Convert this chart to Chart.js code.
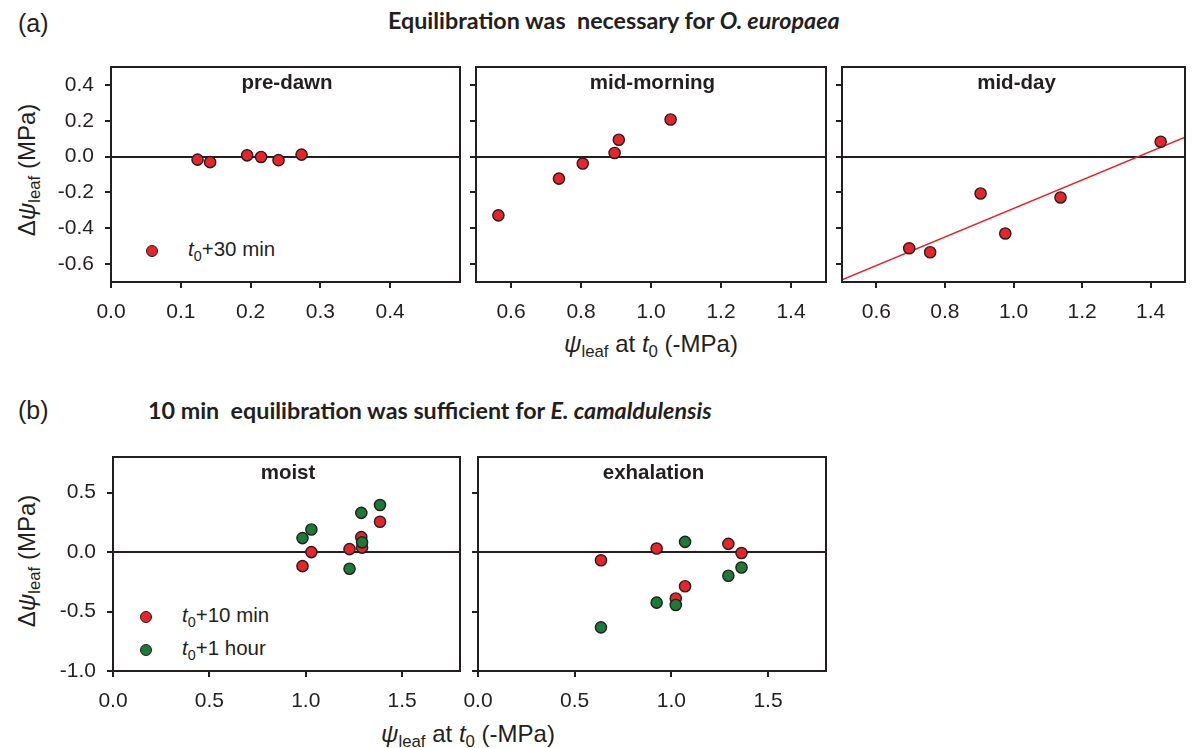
<!DOCTYPE html>
<html><head><meta charset="utf-8">
<script src="https://cdn.jsdelivr.net/npm/chart.js@4.4.1/dist/chart.umd.min.js"></script>
<style>
html,body{margin:0;padding:0;background:#fff;width:1192px;height:748px;overflow:hidden;}
body{position:relative;font-family:"Liberation Sans",Arial,sans-serif;color:#231f20}
.abs{position:absolute;white-space:nowrap}
.panel{position:absolute}
.title{font-family:Lato,"Open Sans",sans-serif;font-weight:bold;font-size:23.3px;line-height:26px}
.ptitle{position:absolute;font-weight:bold;font-size:20.5px;line-height:24px;text-align:center}
.ax{font-size:24px;line-height:28px}
.lab{font-size:25px;line-height:28px}
.leg{font-size:20.5px;line-height:24px}
sub{font-size:0.7em;vertical-align:-0.32em;line-height:0}
.dot{position:absolute;width:12px;height:12px;box-sizing:border-box;border-radius:50%;border:1.5px solid #231f20}
.rot{transform:translate(-50%,-50%) rotate(-90deg)}
</style></head>
<body>
<div class="abs lab" style="left:18px;top:9px">(a)</div>
<div class="abs title" style="left:388px;top:7px">Equilibration was&nbsp; necessary for <i>O. europaea</i></div>
<div class="abs lab" style="left:18px;top:396px">(b)</div>
<div class="abs title" style="left:148px;top:397px">10 min&nbsp; equilibration was sufficient for <i>E. camaldulensis</i></div>

<div class="abs ax rot" style="left:27px;top:170px">Δ<i>ψ</i><sub>leaf</sub> (MPa)</div>
<div class="abs ax rot" style="left:27px;top:561px">Δ<i>ψ</i><sub>leaf</sub> (MPa)</div>
<div class="abs ax" style="left:564px;top:330px"><i>ψ</i><sub>leaf</sub> at <i>t</i><sub>0</sub> (-MPa)</div>
<div class="abs ax" style="left:381px;top:720px"><i>ψ</i><sub>leaf</sub> at <i>t</i><sub>0</sub> (-MPa)</div>

<div id="legends"></div>

<script>
// ---------- data ----------
const RED = '#e8232a';
const GREEN = '#1a7a36';

const yTicksA = [-0.6, -0.4, -0.2, 0, 0.2, 0.4];
const yTicksB = [-1.0, -0.5, 0, 0.5];
const xTicksPreDawn = [0, 0.1, 0.2, 0.3, 0.4];
const xTicksMid = [0.6, 0.8, 1.0, 1.2, 1.4];
const xTicksB = [0, 0.5, 1.0, 1.5];

const preDawnX = [0.124, 0.142, 0.195, 0.215, 0.240, 0.273];
const preDawnY = [-0.017, -0.031, 0.007, -0.002, -0.020, 0.011];

const midMorningX = [0.564, 0.737, 0.805, 0.896, 0.908, 1.056];
const midMorningY = [-0.328, -0.123, -0.039, 0.020, 0.094, 0.207];

const midDayX = [0.696, 0.757, 0.904, 0.976, 1.137, 1.429];
const midDayY = [-0.512, -0.534, -0.206, -0.429, -0.228, 0.083];
const midDayFitX = [0.5, 1.5];
const midDayFitY = [-0.688, 0.108];

const moistX = [0.983, 1.029, 1.227, 1.288, 1.292, 1.385];
const moist10minY = [-0.118, 0.000, 0.025, 0.126, 0.038, 0.255];
const moist1hourY = [0.118, 0.190, -0.140, 0.330, 0.082, 0.396];

const exhalationX = [0.636, 0.924, 1.023, 1.071, 1.295, 1.363];
const exhalation10minY = [-0.069, 0.030, -0.390, -0.287, 0.069, -0.008];
const exhalation1hourY = [-0.633, -0.425, -0.445, 0.086, -0.199, -0.130];

const pts = (xs, ys) => xs.map((x, i) => ({x: x, y: ys[i]}));

// ---------- helpers ----------
const INK = '#231f20';
function dots(xs, ys, color, order) {
  return {data: pts(xs, ys), backgroundColor: color, borderColor: INK, borderWidth: 1.4,
          pointRadius: 5.6, pointHoverRadius: 5.6, order: order};
}
function fitLine(xs, ys) {
  return {data: pts(xs, ys), showLine: true, borderColor: RED, borderWidth: 1.5,
          pointRadius: 0, order: 5, fill: false};
}

const boxPlugin = {
  id: 'box',
  afterDraw(chart) {
    const a = chart.chartArea, c = chart.ctx;
    c.save(); c.strokeStyle = INK; c.lineWidth = 2;
    c.strokeRect(a.left, a.top, a.right - a.left, a.bottom - a.top);
    c.restore();
  }
};

const panels = [
  {title: 'pre-dawn', box: [111, 64, 463, 282], yW: 71, labels: true,
   x: [0, 0.5, xTicksPreDawn], y: [-0.7, 0.5, yTicksA],
   ds: [dots(preDawnX, preDawnY, RED, 1)]},
  {title: 'mid-morning', box: [476, 64, 829, 282], yW: 30, labels: false,
   x: [0.5, 1.5, xTicksMid], y: [-0.7, 0.5, yTicksA],
   ds: [dots(midMorningX, midMorningY, RED, 1)]},
  {title: 'mid-day', box: [842, 64, 1191, 282], yW: 30, labels: false, padR: 1,
   x: [0.5, 1.5, xTicksMid], y: [-0.7, 0.5, yTicksA],
   ds: [fitLine(midDayFitX, midDayFitY), dots(midDayX, midDayY, RED, 1)]},
  {title: 'moist', box: [113, 454, 463, 671], yW: 73, labels: true,
   x: [0, 1.8, xTicksB], y: [-1.0, 0.8, yTicksB],
   ds: [dots(moistX, moist10minY, RED, 1), dots(moistX, moist1hourY, GREEN, 0)]},
  {title: 'exhalation', box: [478, 454, 829, 671], yW: 30, labels: false,
   x: [0, 1.8, xTicksB], y: [-1.0, 0.8, yTicksB],
   ds: [dots(exhalationX, exhalation10minY, RED, 1), dots(exhalationX, exhalation1hourY, GREEN, 0)]}
];

const PADT = 4, XH = 46;
const tickFont = {family: '"Liberation Sans", Arial, sans-serif', size: 21};

panels.forEach((p, i) => {
  const [l, t, r, b] = p.box;
  const padR = p.padR !== undefined ? p.padR : 4;
  const div = document.createElement('div');
  div.className = 'panel';
  div.style.left = (l - p.yW) + 'px';
  div.style.top = (t - PADT) + 'px';
  div.style.width = (p.yW + (r - l) + padR) + 'px';
  div.style.height = (PADT + (b - t) + XH) + 'px';
  const cv = document.createElement('canvas');
  div.appendChild(cv);
  document.body.appendChild(div);

  const tt = document.createElement('div');
  tt.className = 'ptitle';
  tt.style.left = l + 'px'; tt.style.width = (r - l) + 'px';
  tt.style.top = (t + 6) + 'px';
  tt.textContent = p.title;
  document.body.appendChild(tt);

  new Chart(cv, {
    type: 'scatter',
    data: {datasets: p.ds},
    plugins: [boxPlugin],
    options: {
      responsive: true, maintainAspectRatio: false, animation: false,
      layout: {padding: {top: PADT, right: padR, left: 0, bottom: 0}},
      plugins: {legend: {display: false}, tooltip: {enabled: false}},
      events: [],
      scales: {
        x: {
          type: 'linear', min: p.x[0], max: p.x[1],
          afterBuildTicks: s => { s.ticks = p.x[2].map(v => ({value: v})); },
          afterFit: s => { s.height = XH; s.paddingLeft = 0; s.paddingRight = 0; },
          ticks: {font: tickFont, color: INK, padding: 12, maxRotation: 0, autoSkip: false,
                  callback: v => v.toFixed(1)},
          grid: {drawOnChartArea: false, drawTicks: true, tickLength: 6, tickColor: INK, lineWidth: 2, color: INK},
          border: {display: false}
        },
        y: {
          type: 'linear', min: p.y[0], max: p.y[1],
          afterBuildTicks: s => { s.ticks = p.y[2].map(v => ({value: v})); },
          afterFit: s => { s.width = p.yW; s.paddingTop = 0; s.paddingBottom = 0; },
          ticks: {display: p.labels, font: tickFont, color: INK, padding: 11, autoSkip: false,
                  callback: v => v.toFixed(1)},
          grid: {drawOnChartArea: true, drawTicks: true, tickLength: 6, tickColor: INK, lineWidth: 2,
                 color: ctx => (ctx.tick && ctx.tick.value === 0) ? INK : 'rgba(0,0,0,0)'},
          border: {display: false}
        }
      }
    }
  });
});

// ---------- legends ----------
const legendItems = [
  {cx: 151.7, cy: 250.5, tx: 188, color: RED, html: '<i>t</i><sub>0</sub>+30 min'},
  {cx: 145.7, cy: 617, tx: 182, color: RED, html: '<i>t</i><sub>0</sub>+10 min'},
  {cx: 145.7, cy: 649.5, tx: 182, color: GREEN, html: '<i>t</i><sub>0</sub>+1 hour'}
];
const lg = document.getElementById('legends');
legendItems.forEach(it => {
  const d = document.createElement('div');
  d.className = 'dot';
  d.style.left = (it.cx - 6) + 'px'; d.style.top = (it.cy - 6) + 'px';
  d.style.background = it.color;
  lg.appendChild(d);
  const tx = document.createElement('div');
  tx.className = 'abs leg';
  tx.style.left = it.tx + 'px'; tx.style.top = (it.cy - 14) + 'px';
  tx.innerHTML = it.html;
  lg.appendChild(tx);
});
</script>
</body></html>
